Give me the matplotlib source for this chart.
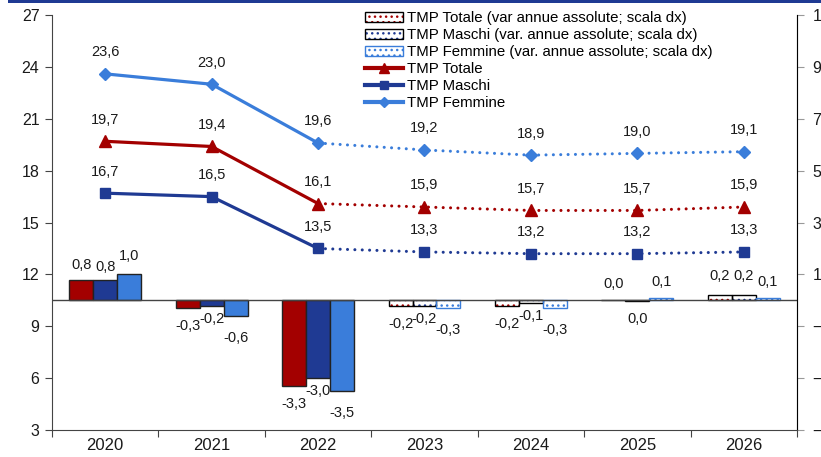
import matplotlib
matplotlib.use("Agg")
import matplotlib.pyplot as plt
from matplotlib.patches import Patch, Rectangle
from matplotlib.lines import Line2D
from matplotlib.legend_handler import HandlerTuple
import numpy as np

plt.rcParams['font.family'] = ['Liberation Sans', 'DejaVu Sans']

years = ["2020", "2021", "2022", "2023", "2024", "2025", "2026"]
tmp_totale = [19.7, 19.4, 16.1, 15.9, 15.7, 15.7, 15.9]
tmp_maschi = [16.7, 16.5, 13.5, 13.3, 13.2, 13.2, 13.3]
tmp_femmine = [23.6, 23.0, 19.6, 19.2, 18.9, 19.0, 19.1]
var_totale = [0.8, -0.3, -3.3, -0.2, -0.2, 0.02, 0.2]
var_maschi = [0.8, -0.2, -3.0, -0.2, -0.1, -0.02, 0.2]
var_femmine = [1.0, -0.6, -3.5, -0.3, -0.3, 0.1, 0.1]
n_actual = 3  # first three years solid, rest forecast

RED = "#A30000"
DBLUE = "#1F3A93"
LBLUE = "#3A7DDA"
TXT = "#1a1a1a"
HATCH = "..."

def fmt(v):
    s = f"{v:.1f}"
    if s == "-0.0":
        s = "0.0"
    return s.replace(".", ",")

fig = plt.figure(figsize=(8.21, 4.57), dpi=100)
ax = fig.add_axes([0.0633, 0.059, 0.9075, 0.908])
ax2 = ax.twinx()

x = np.arange(len(years))
bw = 0.225

# Bars on the right axis
series = [(var_totale, RED, "black", -1), (var_maschi, DBLUE, "black", 0), (var_femmine, LBLUE, LBLUE, 1)]
for vals, col, edge, k in series:
    for i, v in enumerate(vals):
        xi = x[i] + k * bw
        if i < n_actual:
            ax2.bar(xi, v, bw, color=col, edgecolor="#222222", linewidth=1.0, zorder=2)
        else:
            ax2.bar(xi, v, bw, color="white", edgecolor=col, hatch=HATCH, linewidth=0, zorder=2)
            ax2.bar(xi, v, bw, fill=False, edgecolor=edge, linewidth=1.0, zorder=3)

# Bar labels
for vals, k in [(var_totale, -1), (var_maschi, 0), (var_femmine, 1)]:
    for i, v in enumerate(vals):
        xi = x[i] + k * bw
        off = 11.5 if v >= 0 else -13
        stag = 0
        if i in (1, 2, 3, 4) and v < 0:
            stag = {-1: 0, 0: 3.5, 1: -3}[k]
        if i == 0:
            stag = {-1: -1, 0: -2.5, 1: 1.5}[k]
        if i == 6:
            stag = {-1: 2, 0: 2, 1: 0}[k]
        ax2.annotate(fmt(v), (xi, v), xytext=(0, off + stag), textcoords="offset points",
                     ha="center", va="center", fontsize=10.5, color=TXT, zorder=6)

ax2.axhline(0, color="#444444", linewidth=1.0, zorder=4)

# Lines on the left axis
lines = [(tmp_femmine, LBLUE, "D", 6.5), (tmp_totale, RED, "^", 8.5), (tmp_maschi, DBLUE, "s", 7.5)]
for vals, col, mk, ms in lines:
    ax.plot(x[:n_actual], vals[:n_actual], color=col, lw=2.3, zorder=5)
    ax.plot(x[n_actual - 1:], vals[n_actual - 1:], color=col, lw=2.2,
            linestyle=(0, (0.01, 2.4)), dash_capstyle="round", zorder=5)
    ax.plot(x, vals, linestyle="none", marker=mk, markersize=ms, color=col, zorder=6)
    for i, v in enumerate(vals):
        ax.annotate(fmt(v), (x[i], v), xytext=(0, 15.5), textcoords="offset points",
                    ha="center", va="center", fontsize=10.5, color=TXT, zorder=7)

# Put bars axis below lines axis
ax.set_zorder(ax2.get_zorder() + 1)
ax.patch.set_visible(False)

ax.set_ylim(3, 27)
ax.set_yticks(np.arange(3, 28, 3))
ax2.set_ylim(-5, 11)
ax2.set_yticks(np.arange(-5, 12, 2))
ax.set_xlim(-0.5, len(years) - 0.5)
ax.set_xticks(np.arange(-0.5, len(years), 1.0))
ax.set_xticklabels([])
ax.set_xticks(x, minor=True)
ax.set_xticklabels(years, minor=True, fontsize=12)
ax.tick_params(axis="x", which="minor", length=0, pad=6, colors=TXT)
ax.tick_params(axis="x", which="major", length=5, direction="out", color="#444444")
ax.tick_params(axis="y", labelsize=11.5, length=5, color="#444444", labelcolor=TXT, pad=4)
ax2.tick_params(axis="y", labelsize=11.5, length=5, color="#999999", labelcolor=TXT, pad=6)

for a in (ax, ax2):
    a.spines["top"].set_visible(False)
ax.spines["left"].set_color("#444444")
ax.spines["bottom"].set_color("#444444")
ax2.spines["right"].set_color("#999999")
ax2.spines["left"].set_visible(False)
ax2.spines["bottom"].set_visible(False)

# Legend
h_tot = (Patch(facecolor="white", edgecolor=RED, hatch=HATCH, linewidth=0), Patch(fill=False, edgecolor="black", linewidth=1.0))
h_mas = (Patch(facecolor="white", edgecolor=DBLUE, hatch=HATCH, linewidth=0), Patch(fill=False, edgecolor="black", linewidth=1.0))
h_fem = (Patch(facecolor="white", edgecolor=LBLUE, hatch=HATCH, linewidth=0), Patch(fill=False, edgecolor=LBLUE, linewidth=1.0))
l_tot = Line2D([], [], color=RED, lw=3, marker="^", markersize=7)
l_mas = Line2D([], [], color=DBLUE, lw=3, marker="s", markersize=6)
l_fem = Line2D([], [], color=LBLUE, lw=3, marker="D", markersize=5)
labels = ["TMP Totale (var annue assolute; scala dx)",
          "TMP Maschi (var. annue assolute; scala dx)",
          "TMP Femmine (var. annue assolute; scala dx)",
          "TMP Totale", "TMP Maschi", "TMP Femmine"]
leg = fig.legend([h_tot, h_mas, h_fem, l_tot, l_mas, l_fem], labels,
                 handler_map={tuple: HandlerTuple(ndivide=1)},
                 loc="upper left", bbox_to_anchor=(0.441, 0.982), frameon=False,
                 fontsize=10.8, handlelength=2.55, handleheight=0.75, handletextpad=0.25,
                 labelspacing=0.2, borderaxespad=0, borderpad=0.2)

# top band
fig.add_artist(Rectangle((0.01, 0.993), 0.99, 0.007, transform=fig.transFigure,
                         facecolor=DBLUE, edgecolor="none"))

fig.savefig("out.png", dpi=100)
